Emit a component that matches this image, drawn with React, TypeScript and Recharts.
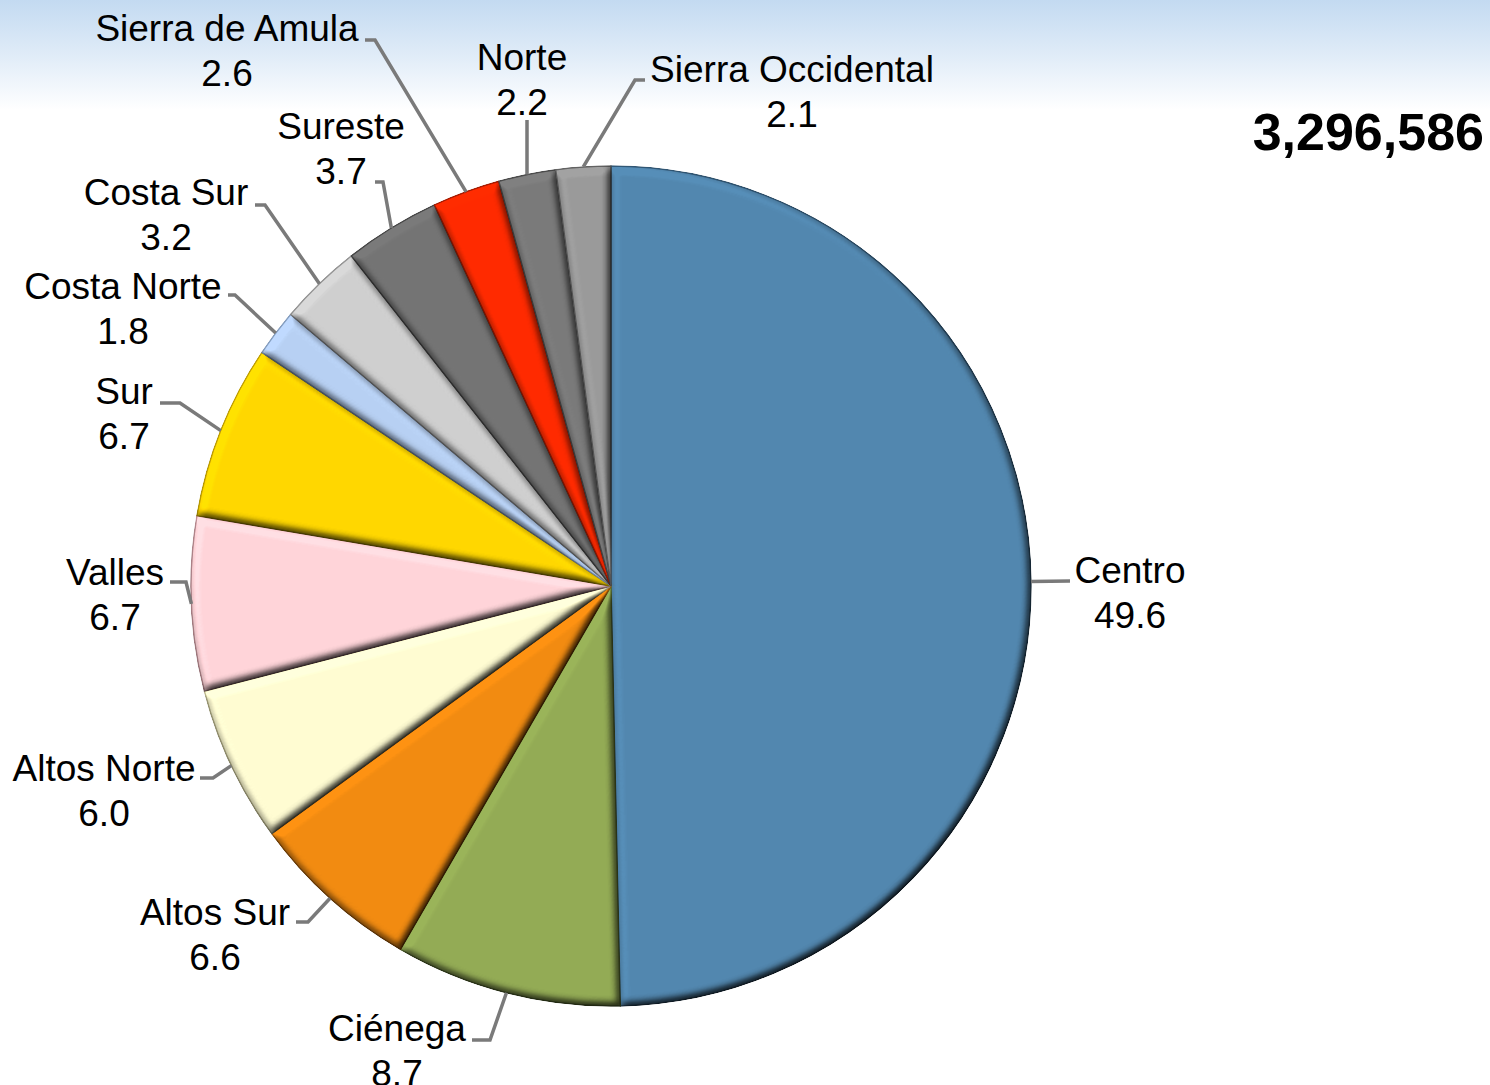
import React from "react";
import { PieChart, Pie, Cell } from "recharts";

const regions = [
  "Centro",
  "Ciénega",
  "Altos Sur",
  "Altos Norte",
  "Valles",
  "Sur",
  "Costa Norte",
  "Costa Sur",
  "Sureste",
  "Sierra de Amula",
  "Norte",
  "Sierra Occidental",
];
const shares = [49.6, 8.7, 6.6, 6.0, 6.7, 6.7, 1.8, 3.2, 3.7, 2.6, 2.2, 2.1];
const totalLabel = "3,296,586";

const colors = [
  "#5287AF",
  "#93AB55",
  "#F28B11",
  "#FFFCD2",
  "#FFD4D9",
  "#FFD700",
  "#B7D0F3",
  "#CFCFCF",
  "#747474",
  "#FF2A00",
  "#7A7A7A",
  "#9A9A9A",
];
const strokes = [
  "#2F5573",
  "#5E7333",
  "#A85C06",
  "#B8B48A",
  "#B5888E",
  "#B89A00",
  "#7F97B8",
  "#8F8F8F",
  "#444444",
  "#A01A00",
  "#474747",
  "#5E5E5E",
];

// label layout relative to pie centre: elbow points of leader line, and text centre of the first line
const labelLayout = [
  { pts: [[459, -5]], tx: 519, ty: -16 },
  { pts: [[-121, 454], [-139, 454]], tx: -214, ty: 442 },
  { pts: [[-303, 336], [-315, 336]], tx: -396, ty: 326 },
  { pts: [[-398, 192], [-411, 192]], tx: -507, ty: 182 },
  { pts: [[-425, -4], [-441, -4]], tx: -496, ty: -14 },
  { pts: [[-431, -183], [-451, -183]], tx: -487, ty: -195 },
  { pts: [[-376, -291], [-383, -291]], tx: -488, ty: -300 },
  { pts: [[-346, -381], [-356, -381]], tx: -445, ty: -394 },
  { pts: [[-228, -404], [-236, -404]], tx: -270, ty: -460 },
  { pts: [[-236, -546], [-246, -546]], tx: -384, ty: -558 },
  { pts: [[-84, -466]], tx: -89, ty: -529 },
  { pts: [[24, -506], [34, -506]], tx: 181, ty: -517 },
];

const data = regions.map((name, i) => ({ name, value: shares[i] }));

const RAD = Math.PI / 180;

const renderLabel = (props: any) => {
  const { cx, cy, midAngle, outerRadius, index } = props;
  const sx = cx + outerRadius * Math.cos(-midAngle * RAD);
  const sy = cy + outerRadius * Math.sin(-midAngle * RAD);
  const lay = labelLayout[index];
  const points = [[sx, sy], ...lay.pts.map(([x, y]) => [cx + x, cy + y])];
  const tx = cx + lay.tx;
  const ty = cy + lay.ty;
  return (
    <g key={`lbl-${index}`}>
      <polyline
        points={points.map((p) => p.join(",")).join(" ")}
        fill="none"
        stroke="#7A7A7A"
        strokeWidth={3.5}
        style={{ strokeWidth: 3.5 }}
      />
      <text
        x={tx}
        y={ty}
        textAnchor="middle"
        dominantBaseline="central"
        fontSize={37}
        fill="#000"
        fontFamily="'Liberation Sans', Arial, sans-serif"
      >
        <tspan x={tx} dy={0}>{regions[index]}</tspan>
        <tspan x={tx} dy={45}>{shares[index].toFixed(1)}</tspan>
      </text>
    </g>
  );
};

export default function App() {
  return (
    <div
      style={{
        position: "absolute",
        left: 0,
        top: 0,
        width: 1490,
        height: 1085,
        overflow: "hidden",
        background:
          "linear-gradient(to bottom, #C3DAF1 0px, #DDEAF7 50px, #FFFFFF 110px, #FFFFFF 1085px)",
        fontFamily: "'Liberation Sans', Arial, sans-serif",
      }}
    >
      <svg width={0} height={0} style={{ position: "absolute" }}>
        <defs>
          <filter id="bevel" x="-5%" y="-5%" width="110%" height="110%" colorInterpolationFilters="sRGB">
            <feGaussianBlur in="SourceAlpha" stdDeviation="4" result="blur" />
            <feDiffuseLighting in="blur" surfaceScale="6" diffuseConstant="1.1" lightingColor="#ffffff" result="diff">
              <feDistantLight azimuth="235" elevation="60" />
            </feDiffuseLighting>
            <feComposite in="SourceGraphic" in2="diff" operator="arithmetic" k1="1.05" k2="0" k3="0" k4="0" result="lit" />
            <feComposite in="lit" in2="SourceAlpha" operator="in" />
          </filter>
        </defs>
      </svg>
      <PieChart width={1490} height={1085} margin={{ top: 0, right: 0, bottom: 0, left: 0 }}>
        <Pie
          data={data}
          dataKey="value"
          nameKey="name"
          cx={611}
          cy={586}
          outerRadius={420}
          startAngle={90}
          endAngle={-270}
          isAnimationActive={false}
          labelLine={false}
          label={renderLabel}
        >
          {data.map((d, i) => (
            <Cell
              key={d.name}
              fill={colors[i]}
              stroke={strokes[i]}
              strokeWidth={1.5}
              filter="url(#bevel)"
            />
          ))}
        </Pie>
      </PieChart>
      <div
        style={{
          position: "absolute",
          right: 6,
          top: 102,
          fontSize: 52,
          fontWeight: "bold",
          color: "#000",
          lineHeight: "60px",
        }}
      >
        {totalLabel}
      </div>
    </div>
  );
}
